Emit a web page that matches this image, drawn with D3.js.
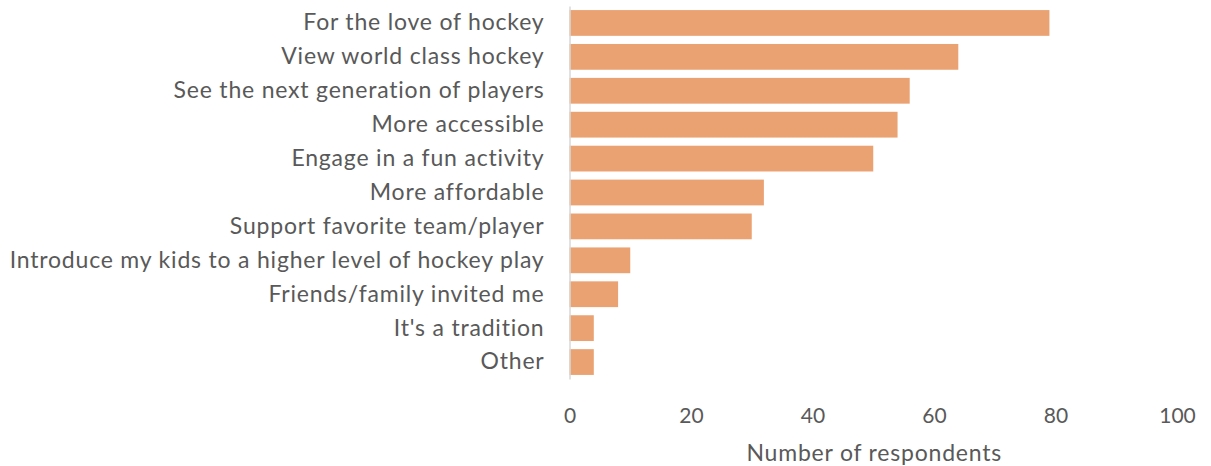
<!DOCTYPE html>
<html>
<head>
<meta charset="utf-8">
<script src="https://cdn.jsdelivr.net/npm/d3@7"></script>
<style>
  html, body { margin: 0; padding: 0; background: #fff; }
  svg { display: block; }
  text { font-family: "Lato", "Noto Sans", sans-serif; fill: #595959; }
</style>
</head>
<body>
<svg id="chart" width="1211" height="466"></svg>
<script>
// Reasons for attending, ordered as shown top to bottom
const reasons = [
  "For the love of hockey",
  "View world class hockey",
  "See the next generation of players",
  "More accessible",
  "Engage in a fun activity",
  "More affordable",
  "Support favorite team/player",
  "Introduce my kids to a higher level of hockey play",
  "Friends/family invited me",
  "It's a tradition",
  "Other"
];
const respondents = [79, 64, 56, 54, 50, 32, 30, 10, 8, 4, 4];
const xTicks = [0, 20, 40, 60, 80, 100];
const xTitle = "Number of respondents";

const svg = d3.select("#chart");

const x = d3.scaleLinear().domain([0, 100]).range([569.5, 1177]);
const y = d3.scaleBand().domain(reasons).range([6, 379]).paddingInner(0.24).paddingOuter(0.12);

// bars
svg.append("g")
  .selectAll("rect")
  .data(reasons)
  .join("rect")
  .attr("x", x(0))
  .attr("y", d => y(d))
  .attr("width", (d, i) => x(respondents[i]) - x(0))
  .attr("height", y.bandwidth())
  .attr("fill", "#eba272");

// category axis (line only, labels to the left)
const yAxis = svg.append("g")
  .attr("transform", `translate(${x(0)},0)`)
  .call(d3.axisLeft(y).tickSize(0).tickPadding(25));
yAxis.select(".domain").attr("stroke", "#d9d9d9").attr("stroke-width", 1.5);
yAxis.selectAll("text")
  .attr("font-size", 23)
  .attr("letter-spacing", "0.8px")
  .attr("fill", "#595959")
  .style("font-family", "Lato, 'Noto Sans', sans-serif");

// value axis labels (no line, no ticks)
const xAxis = svg.append("g")
  .attr("transform", `translate(0,404)`)
  .call(d3.axisBottom(x).tickValues(xTicks).tickSize(0).tickPadding(4));
xAxis.select(".domain").remove();
xAxis.selectAll("text")
  .attr("font-size", 21)
  .attr("fill", "#595959")
  .style("font-family", "Lato, 'Noto Sans', sans-serif");

// axis title
svg.append("text")
  .attr("x", (x(0) + x(100)) / 2 + 1)
  .attr("y", 461)
  .attr("text-anchor", "middle")
  .attr("font-size", 23)
  .attr("letter-spacing", "0.8px")
  .text(xTitle);
</script>
</body>
</html>
